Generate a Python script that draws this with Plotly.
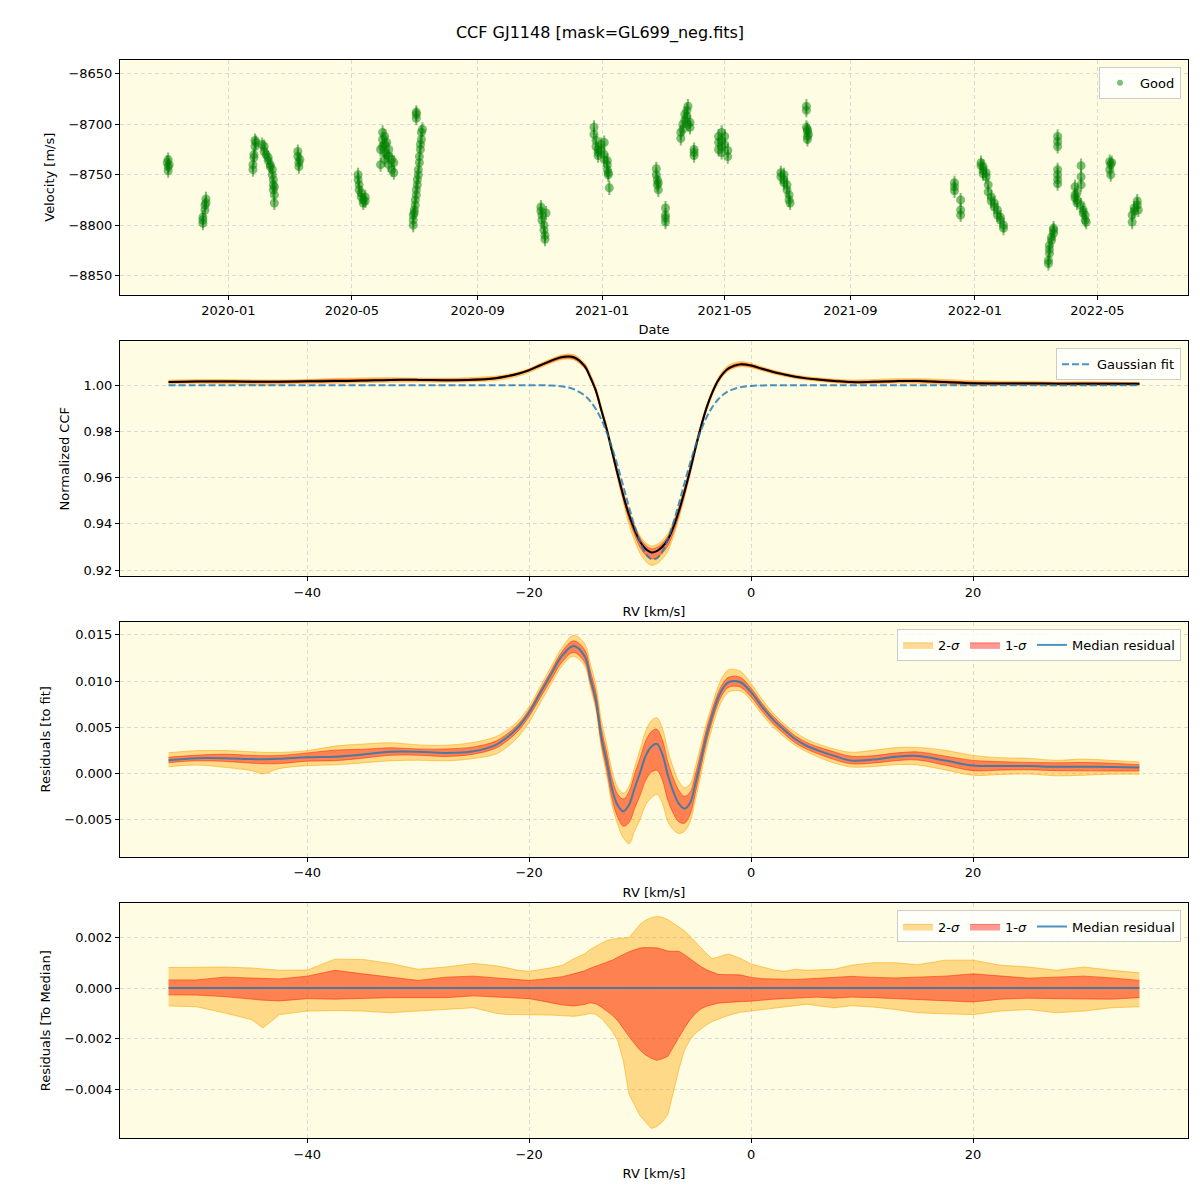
import plotly.graph_objects as go

TITLE = "CCF GJ1148 [mask=GL699_neg.fits]"

# ---------------- Panel 1: RV time series ----------------
obs_date = [
    "2019-11-02", "2019-11-03", "2019-11-03", "2019-11-03", "2019-11-04",
    "2019-12-07", "2019-12-07", "2019-12-07", "2019-12-09", "2019-12-09", "2019-12-10", "2019-12-10",
    "2020-01-25", "2020-01-25", "2020-01-26", "2020-01-26", "2020-01-27", "2020-01-27", "2020-01-28",
    "2020-02-03", "2020-02-05", "2020-02-05", "2020-02-07", "2020-02-09", "2020-02-09", "2020-02-11", "2020-02-11",
    "2020-02-13", "2020-02-13", "2020-02-14", "2020-02-14", "2020-02-14", "2020-02-15", "2020-02-15", "2020-02-15",
    "2020-03-09", "2020-03-09", "2020-03-10", "2020-03-10", "2020-03-11",
    "2020-05-07", "2020-05-07", "2020-05-08", "2020-05-08", "2020-05-10", "2020-05-10", "2020-05-12", "2020-05-12", "2020-05-14", "2020-05-14",
    "2020-05-29", "2020-05-29", "2020-05-31", "2020-05-31", "2020-05-31", "2020-06-02", "2020-06-02", "2020-06-02", "2020-06-02",
    "2020-06-04", "2020-06-04", "2020-06-06", "2020-06-06", "2020-06-06", "2020-06-09", "2020-06-09", "2020-06-11", "2020-06-11",
    "2020-06-30", "2020-06-30", "2020-06-30", "2020-07-01", "2020-07-01", "2020-07-02", "2020-07-02", "2020-07-03", "2020-07-03",
    "2020-07-04", "2020-07-04", "2020-07-05", "2020-07-05", "2020-07-06", "2020-07-06", "2020-07-07", "2020-07-07",
    "2020-07-08", "2020-07-08", "2020-07-09", "2020-07-03", "2020-07-03", "2020-07-03",
    "2020-11-02", "2020-11-02", "2020-11-03", "2020-11-03", "2020-11-05", "2020-11-05", "2020-11-06", "2020-11-06", "2020-11-07",
    "2020-12-24", "2020-12-24", "2020-12-26", "2020-12-26", "2020-12-28", "2020-12-28", "2020-12-28", "2020-12-31", "2020-12-31",
    "2021-01-03", "2021-01-03", "2021-01-03", "2021-01-06", "2021-01-06", "2021-01-06", "2021-01-07", "2021-01-07", "2021-01-08",
    "2021-02-23", "2021-02-23", "2021-02-24", "2021-02-24", "2021-02-25", "2021-02-25",
    "2021-03-04", "2021-03-04", "2021-03-04", "2021-03-04",
    "2021-03-19", "2021-03-19", "2021-03-21", "2021-03-21", "2021-03-23", "2021-03-23",
    "2021-03-25", "2021-03-25", "2021-03-26", "2021-03-26", "2021-03-28", "2021-03-28",
    "2021-04-01", "2021-04-01", "2021-04-01",
    "2021-04-25", "2021-04-25", "2021-04-25", "2021-04-28", "2021-04-28", "2021-04-28", "2021-04-28",
    "2021-05-01", "2021-05-01", "2021-05-04", "2021-05-04",
    "2021-06-25", "2021-06-25", "2021-06-28", "2021-06-28", "2021-06-28", "2021-07-01", "2021-07-01", "2021-07-03", "2021-07-03", "2021-07-04",
    "2021-07-20", "2021-07-20", "2021-07-20", "2021-07-21", "2021-07-21", "2021-07-21", "2021-07-21", "2021-07-22",
    "2021-12-12", "2021-12-12", "2021-12-12", "2021-12-18", "2021-12-18", "2021-12-18",
    "2022-01-07", "2022-01-07", "2022-01-09", "2022-01-09", "2022-01-09", "2022-01-12", "2022-01-12", "2022-01-14", "2022-01-14",
    "2022-01-17", "2022-01-17", "2022-01-20", "2022-01-20", "2022-01-23", "2022-01-23", "2022-01-26", "2022-01-26", "2022-01-29", "2022-01-29",
    "2022-03-14", "2022-03-14", "2022-03-15", "2022-03-15", "2022-03-15", "2022-03-17", "2022-03-17", "2022-03-19", "2022-03-19", "2022-03-19",
    "2022-03-23", "2022-03-23", "2022-03-23", "2022-03-23", "2022-03-23", "2022-03-23", "2022-03-23",
    "2022-04-09", "2022-04-09", "2022-04-09", "2022-04-11", "2022-04-11", "2022-04-11", "2022-04-15", "2022-04-15", "2022-04-15", "2022-04-15",
    "2022-04-17", "2022-04-17", "2022-04-19", "2022-04-19", "2022-04-20",
    "2022-05-13", "2022-05-13", "2022-05-14", "2022-05-14", "2022-05-15",
    "2022-06-04", "2022-06-04", "2022-06-06", "2022-06-06", "2022-06-09", "2022-06-09", "2022-06-10",
]
obs_vel = [
    -8738, -8735, -8742, -8746, -8740,
    -8792, -8798, -8795, -8780, -8785, -8774, -8778,
    -8745, -8740, -8730, -8733, -8722, -8716, -8718,
    -8720, -8722, -8727, -8730, -8733, -8736, -8742, -8740,
    -8745, -8750, -8755, -8760, -8765, -8770, -8778, -8762,
    -8727, -8732, -8738, -8742, -8735,
    -8750, -8755, -8760, -8765, -8768, -8772, -8775, -8778, -8772, -8776,
    -8740, -8725, -8708, -8715, -8722, -8712, -8720, -8728, -8735,
    -8718, -8730, -8725, -8732, -8740, -8735, -8745, -8748, -8738,
    -8800, -8795, -8790, -8788, -8785, -8780, -8775, -8770, -8765,
    -8760, -8755, -8750, -8745, -8738, -8732, -8725, -8720,
    -8715, -8708, -8705, -8690, -8694, -8688,
    -8782, -8786, -8790, -8795, -8800, -8805, -8810, -8814, -8788,
    -8703, -8710, -8716, -8722, -8725, -8731, -8728, -8720, -8726,
    -8718, -8730, -8735, -8740, -8745, -8736, -8750, -8748, -8763,
    -8744, -8750, -8755, -8760, -8765, -8758,
    -8783, -8790, -8797, -8793,
    -8714, -8708, -8705, -8700, -8696, -8690,
    -8686, -8692, -8682, -8700, -8698, -8703,
    -8725, -8731, -8728,
    -8712, -8718, -8725, -8708, -8716, -8722, -8728,
    -8712, -8720, -8726, -8732,
    -8748, -8752, -8750, -8755, -8758, -8760, -8765, -8770, -8775, -8778,
    -8682, -8686, -8703, -8707, -8712, -8715, -8705, -8710,
    -8758, -8762, -8766, -8775, -8785, -8790,
    -8738, -8741, -8742, -8746, -8749, -8752, -8748, -8760, -8767,
    -8772, -8776, -8778, -8782, -8785, -8790, -8792, -8795, -8800, -8803,
    -8838, -8835, -8828, -8824, -8820, -8815, -8812, -8808, -8805, -8803,
    -8712, -8717, -8722, -8745, -8750, -8755, -8759,
    -8762, -8770, -8773, -8768, -8775, -8778, -8741, -8752, -8760, -8780,
    -8785, -8788, -8790, -8795, -8797,
    -8737, -8745, -8740, -8750, -8738,
    -8790, -8797, -8786, -8783, -8780, -8776, -8785,
]
VEL_ERR = 7.0

date_tick_vals = ["2020-01-01", "2020-05-01", "2020-09-01", "2021-01-01",
                  "2021-05-01", "2021-09-01", "2022-01-01", "2022-05-01"]
date_tick_text = ["2020-01", "2020-05", "2020-09", "2021-01",
                  "2021-05", "2021-09", "2022-01", "2022-05"]
vel_ticks = [-8850, -8800, -8750, -8700, -8650]

# ---------------- Panels 2-4: CCF profiles ----------------
rv = [-52.5, -50, -47.5, -45, -44, -42.5, -40, -37.5, -35, -32.5,
      -30, -27.5, -25, -23, -22, -21, -20, -19, -18, -17,
      -16, -15, -14.5, -14, -13.5, -13, -12.5, -12, -11.5, -11,
      -10.5, -10, -9.5, -9, -8.5, -8, -7.5, -7, -6.5, -6,
      -5.5, -5, -4.5, -4, -3.5, -3, -2.5, -2, -1, 0,
      1, 2, 3, 4, 5, 6, 7.5, 9, 11, 13,
      15, 17.5, 20, 22.5, 25, 27.5, 30, 32.5, 35]

gauss_fit = [1.0, 1.0, 1.0, 1.0, 1.0, 1.0, 1.0, 1.0, 1.0, 1.0,
             1.0, 1.0, 1.0, 1.0, 1.0, 1.0, 1.0, 1.0, 0.9999, 0.99948,
             0.99836, 0.9956, 0.99317, 0.98978, 0.98526, 0.97952, 0.97257, 0.96459, 0.95598, 0.94722,
             0.93903, 0.93213, 0.92719, 0.92473, 0.925, 0.92799, 0.93337, 0.94058, 0.94896, 0.95772,
             0.96626, 0.97405, 0.98077, 0.98626, 0.99055, 0.99373, 0.996, 0.99753, 0.99916, 0.99975,
             0.99994, 1.0, 1.0, 1.0, 1.0, 1.0, 1.0, 1.0, 1.0, 1.0,
             1.0, 1.0, 1.0, 1.0, 1.0, 1.0, 1.0, 1.0, 1.0]

res_med = [0.00143, 0.00165, 0.00165, 0.00155, 0.00154, 0.00158, 0.00175, 0.00182, 0.00205, 0.00235,
           0.00235, 0.00222, 0.0024, 0.0031, 0.0039, 0.005, 0.0066, 0.0087, 0.0108, 0.0128,
           0.0138, 0.0127, 0.0104, 0.008, 0.004, 0.0012, -0.0018, -0.0035, -0.0041, -0.0034,
           -0.0016, 0.0001, 0.0019, 0.0029, 0.0032, 0.0021, -0.0002, -0.002, -0.0033, -0.0038,
           -0.0032, -0.001, 0.0016, 0.0042, 0.0063, 0.0081, 0.0093, 0.0099, 0.0099, 0.0088,
           0.0072, 0.0058, 0.0047, 0.0037, 0.003, 0.0025, 0.0019, 0.0014, 0.0015, 0.0018,
           0.0019, 0.0014, 0.00085, 0.0008, 0.0008, 0.00072, 0.00072, 0.0007, 0.00065]

# spread of the individual CCFs around the median (percentile offsets)
off_2hi = [0.00081, 0.00081, 0.00083, 0.00079, 0.00075, 0.0007, 0.00071, 0.00114, 0.00113, 0.00097,
           0.00074, 0.00083, 0.00097, 0.00088, 0.0008, 0.0007, 0.00066, 0.00072, 0.0008, 0.0009,
           0.00115, 0.00135, 0.00152, 0.00165, 0.00178, 0.00188, 0.00193, 0.00195, 0.00196, 0.002,
           0.00225, 0.00252, 0.00268, 0.00278, 0.00283, 0.0028, 0.0027, 0.00255, 0.00242, 0.00226,
           0.00205, 0.0018, 0.00158, 0.00135, 0.00116, 0.00122, 0.0013, 0.00134, 0.00118, 0.00095,
           0.00082, 0.00072, 0.00066, 0.00074, 0.0007, 0.00072, 0.00074, 0.0009, 0.001, 0.001,
           0.00092, 0.0011, 0.0011, 0.0009, 0.00083, 0.0007, 0.00083, 0.0007, 0.0006]
off_1hi = [0.00032, 0.00032, 0.00043, 0.0004, 0.00038, 0.00036, 0.00047, 0.0007, 0.00056, 0.00043,
           0.0003, 0.00043, 0.00047, 0.0004, 0.00036, 0.00032, 0.0003, 0.00034, 0.00038, 0.00045,
           0.00056, 0.00068, 0.00078, 0.00086, 0.00093, 0.001, 0.0011, 0.00122, 0.00134, 0.00143,
           0.00151, 0.00158, 0.0016, 0.00161, 0.00159, 0.00153, 0.00146, 0.00145, 0.00145, 0.00132,
           0.00116, 0.001, 0.00084, 0.00072, 0.00062, 0.00054, 0.00053, 0.00053, 0.00052, 0.00042,
           0.00037, 0.00036, 0.00035, 0.00034, 0.00036, 0.00038, 0.00043, 0.00046, 0.00042, 0.0004,
           0.00043, 0.00047, 0.00056, 0.00047, 0.00039, 0.00043, 0.00047, 0.0004, 0.0003]
off_1lo = [-0.00027, -0.00028, -0.00034, -0.00044, -0.00048, -0.00051, -0.00042, -0.00044, -0.0004, -0.00038,
           -0.00038, -0.00038, -0.00031, -0.00036, -0.00038, -0.0004, -0.00042, -0.0005, -0.0006, -0.00067,
           -0.00071, -0.00065, -0.00058, -0.00062, -0.00075, -0.0009, -0.00108, -0.0013, -0.00162, -0.00192,
           -0.0022, -0.00246, -0.00265, -0.00278, -0.00286, -0.0028, -0.0027, -0.00235, -0.00195, -0.00158,
           -0.00125, -0.001, -0.00082, -0.00072, -0.00065, -0.0006, -0.00058, -0.00056, -0.00054, -0.00052,
           -0.00047, -0.00044, -0.00042, -0.0004, -0.00036, -0.00036, -0.0004, -0.00036, -0.00038, -0.00042,
           -0.00044, -0.00051, -0.00055, -0.00044, -0.0004, -0.00042, -0.00044, -0.00044, -0.00038]
off_2lo = [-0.00071, -0.00074, -0.00098, -0.00125, -0.00158, -0.00105, -0.00091, -0.00089, -0.00091, -0.00098,
           -0.00091, -0.00085, -0.00078, -0.001, -0.00105, -0.00105, -0.00105, -0.00106, -0.00107, -0.00109,
           -0.00112, -0.00106, -0.001, -0.00105, -0.0012, -0.00145, -0.00172, -0.0021, -0.0029, -0.0042,
           -0.00465, -0.00505, -0.0053, -0.00555, -0.00548, -0.0053, -0.005, -0.0041, -0.0032, -0.00245,
           -0.00205, -0.00178, -0.0016, -0.00145, -0.00132, -0.00124, -0.00116, -0.00108, -0.00096, -0.0009,
           -0.00085, -0.0008, -0.00075, -0.00068, -0.00064, -0.0007, -0.00078, -0.0007, -0.00075, -0.00085,
           -0.00098, -0.00102, -0.00105, -0.00091, -0.00085, -0.00098, -0.00091, -0.00078, -0.00074]

rv_ticks = [-40, -20, 0, 20]

assert len(obs_date) == len(obs_vel)
for arr in (gauss_fit, res_med, off_2hi, off_1hi, off_1lo, off_2lo):
    assert len(arr) == len(rv)

ccf_med = [g + r for g, r in zip(gauss_fit, res_med)]
zero_line = [0.0 for _ in rv]

# ---------------- styling ----------------
FONT = "DejaVu Sans"
BG = "#fefce2"
GREEN = "rgba(0,128,0,0.5)"
ORANGE_FILL = "rgba(255,165,0,0.4)"
RED_FILL = "rgba(255,0,0,0.4)"
ORANGE_EDGE = "rgba(255,165,0,0.55)"
RED_EDGE = "rgba(255,40,0,0.55)"
BLUE = "rgba(31,119,180,0.8)"
GRID = "rgba(176,176,190,0.45)"

W = H = 1200
X0, X1 = 120, 1188
panels_px = [(60, 295), (342, 577), (623, 858), (905, 1140)]


def ydom(top, bot):
    return [1 - bot / H, 1 - top / H]


fig = go.Figure()

# Panel 1
fig.add_trace(go.Scatter(
    x=obs_date, y=obs_vel, mode="markers",
    marker=dict(color=GREEN, size=9, line=dict(width=0)),
    error_y=dict(type="constant", value=VEL_ERR, color=GREEN, thickness=2, width=0),
    showlegend=False, xaxis="x", yaxis="y", hoverinfo="skip"))
fig.add_trace(go.Scatter(
    x=[None], y=[None], mode="markers", name="Good",
    marker=dict(color=GREEN, size=6), legend="legend",
    xaxis="x", yaxis="y"))


def add_bands(base, xa, ya, leg, show, shape):
    lo2 = [b + o for b, o in zip(base, off_2lo)]
    hi2 = [b + o for b, o in zip(base, off_2hi)]
    lo1 = [b + o for b, o in zip(base, off_1lo)]
    hi1 = [b + o for b, o in zip(base, off_1hi)]
    fig.add_trace(go.Scatter(x=rv, y=lo2, mode="lines",
                             line=dict(color=ORANGE_EDGE, width=1, shape=shape),
                             showlegend=False, xaxis=xa, yaxis=ya, hoverinfo="skip"))
    fig.add_trace(go.Scatter(x=rv, y=hi2, mode="lines", fill="tonexty", fillcolor=ORANGE_FILL,
                             line=dict(color=ORANGE_EDGE, width=1, shape=shape),
                             name="2-<i>σ</i>", showlegend=show, legend=leg,
                             xaxis=xa, yaxis=ya, hoverinfo="skip"))
    fig.add_trace(go.Scatter(x=rv, y=lo1, mode="lines",
                             line=dict(color=RED_EDGE, width=1, shape=shape),
                             showlegend=False, xaxis=xa, yaxis=ya, hoverinfo="skip"))
    fig.add_trace(go.Scatter(x=rv, y=hi1, mode="lines", fill="tonexty", fillcolor=RED_FILL,
                             line=dict(color=RED_EDGE, width=1, shape=shape),
                             name="1-<i>σ</i>", showlegend=show, legend=leg,
                             xaxis=xa, yaxis=ya, hoverinfo="skip"))


# Panel 2
add_bands(ccf_med, "x2", "y2", "legend2", False, "spline")
fig.add_trace(go.Scatter(x=rv, y=ccf_med, mode="lines",
                         line=dict(color="black", width=2, shape="spline"),
                         showlegend=False, xaxis="x2", yaxis="y2"))
fig.add_trace(go.Scatter(x=rv, y=gauss_fit, mode="lines", name="Gaussian fit",
                         line=dict(color=BLUE, width=2, dash="7px,3px", shape="spline"),
                         legend="legend2", xaxis="x2", yaxis="y2"))

# Panel 3
add_bands(res_med, "x3", "y3", "legend3", True, "spline")
fig.add_trace(go.Scatter(x=rv, y=res_med, mode="lines", name="Median residual",
                         line=dict(color=BLUE, width=2, shape="spline"),
                         legend="legend3", xaxis="x3", yaxis="y3"))

# Panel 4
add_bands(zero_line, "x4", "y4", "legend4", True, "linear")
fig.add_trace(go.Scatter(x=rv, y=zero_line, mode="lines", name="Median residual",
                         line=dict(color=BLUE, width=2),
                         legend="legend4", xaxis="x4", yaxis="y4"))

axis_common = dict(showline=True, mirror=True, linecolor="black", linewidth=1,
                   ticks="outside", ticklen=4, tickcolor="black",
                   showgrid=True, gridcolor=GRID, griddash="4px,3px", gridwidth=1,
                   zeroline=False, tickfont=dict(size=13, color="black"),
                   title_font=dict(size=13, color="black"))

xdom = [X0 / W, X1 / W]
layout = dict(
    width=W, height=H, margin=dict(l=0, r=0, t=0, b=0),
    paper_bgcolor="white", plot_bgcolor=BG,
    font=dict(family=FONT, size=13, color="black"),
    title=dict(text=TITLE, x=0.5, xanchor="center", y=1 - 32 / H, yanchor="middle",
               font=dict(size=16, family=FONT)),
)

layout["xaxis"] = dict(axis_common, domain=xdom, anchor="y", type="date",
                       range=["2019-09-16 20:00", "2022-07-28 16:00"],
                       tickvals=date_tick_vals, ticktext=date_tick_text,
                       title=dict(text="Date", standoff=7))
layout["yaxis"] = dict(axis_common, domain=ydom(*panels_px[0]), anchor="x",
                       range=[-8868.8, -8636.1], tickvals=vel_ticks,
                       title=dict(text="Velocity [m/s]", standoff=10))

yranges = [[0.9174, 1.019], [-0.0090, 0.0164], [-0.005934, 0.003342]]
yticks = [[0.92, 0.94, 0.96, 0.98, 1.00],
          [-0.005, 0.0, 0.005, 0.010, 0.015],
          [-0.004, -0.002, 0.0, 0.002]]
yfmt = [".2f", ".3f", ".3f"]
ytitles = ["Normalized CCF", "Residuals [to fit]", "Residuals [To Median]"]
for i in range(3):
    n = i + 2
    layout[f"xaxis{n}"] = dict(axis_common, domain=xdom, anchor=f"y{n}",
                               range=[-56.875, 39.375], tickvals=rv_ticks,
                               title=dict(text="RV [km/s]", standoff=8))
    layout[f"yaxis{n}"] = dict(axis_common, domain=ydom(*panels_px[n - 1]), anchor=f"x{n}",
                               range=yranges[i], tickvals=yticks[i], tickformat=yfmt[i],
                               title=dict(text=ytitles[i], standoff=10))

leg_common = dict(bgcolor="rgba(255,255,255,0.8)", bordercolor="#cccccc", borderwidth=1,
                  font=dict(size=13, family=FONT), xanchor="right", yanchor="top",
                  traceorder="normal")
layout["legend"] = dict(leg_common, x=1181 / W, y=1 - 67 / H)
layout["legend2"] = dict(leg_common, x=1181 / W, y=1 - 349 / H)
layout["legend3"] = dict(leg_common, x=1181 / W, y=1 - 630 / H, orientation="h")
layout["legend4"] = dict(leg_common, x=1181 / W, y=1 - 912 / H, orientation="h")

fig.update_layout(**layout)
fig.write_html("out.html", config={"displayModeBar": False},
               post_script="document.body.style.margin='0px';document.body.style.overflow='hidden';")
